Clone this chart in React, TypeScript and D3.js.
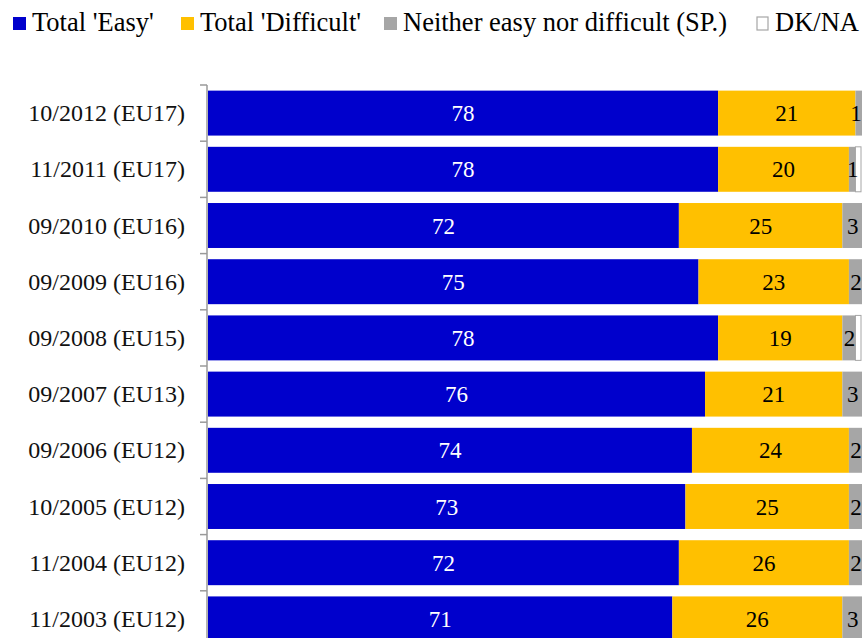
import React from 'react'
import * as d3 from 'd3'

// data (percent)
const periods = [
  '10/2012 (EU17)', '11/2011 (EU17)', '09/2010 (EU16)', '09/2009 (EU16)', '09/2008 (EU15)',
  '09/2007 (EU13)', '09/2006 (EU12)', '10/2005 (EU12)', '11/2004 (EU12)', '11/2003 (EU12)'
]
const easy = [78, 78, 72, 75, 78, 76, 74, 73, 72, 71]
const difficult = [21, 20, 25, 23, 19, 21, 24, 25, 26, 26]
const neither = [1, 1, 3, 2, 2, 3, 2, 2, 2, 3]
const dkna = [0, 1, 0, 0, 1, 0, 0, 0, 0, 0]

const seriesKeys = ['easy', 'difficult', 'neither', 'dkna']
const seriesNames = ["Total 'Easy'", "Total 'Difficult'", 'Neither easy nor difficult (SP.)', 'DK/NA']
const seriesColors = ['#0000CC', '#FFC000', '#A6A6A6', '#FFFFFF']
const labelColors = ['#FFFFFF', '#000000', '#000000', '#000000']

const serif = 'Liberation Serif'
const width = 863
const height = 638
const axisX = 207

const rows = periods.map((p, i) => ({
  period: p,
  easy: easy[i],
  difficult: difficult[i],
  neither: neither[i],
  dkna: dkna[i]
}))

const xScale = d3.scaleLinear().domain([0, 100]).range([208, 862])
const yScale = d3.scaleBand().domain(periods).range([85, 647]).paddingInner(0.2).paddingOuter(0.1)
const stack = d3.stack().keys(seriesKeys)
const layers = stack(rows as any)

// legend positions
const legendX = [13, 181, 384, 757]

export default function App () {
  const step = yScale.step()
  const boundaries = d3.range(periods.length + 1).map(i => 85 + i * step)
  return (
    <svg width={width} height={height} style={{ position: 'absolute', left: 0, top: 0, background: '#fff' }}>
      {/* legend */}
      {seriesNames.map((name, i) => (
        <g key={name} transform={`translate(${legendX[i]}, 0)`}>
          <rect x={0} y={17} width={i === 3 ? 11 : 13} height={13}
            fill={seriesColors[i]} stroke={i === 3 ? '#A6A6A6' : 'none'} strokeWidth={1.2} />
          <text x={i === 3 ? 18 : 19} y={31} fontFamily={serif} fontSize={26.5} fill="#000">{name}</text>
        </g>
      ))}

      {/* bars */}
      {layers.map((layer, li) => (
        <g key={seriesKeys[li]}>
          {layer.map((d, i) => {
            const w = xScale(d[1]) - xScale(d[0])
            if (w <= 0) return null
            return (
              <rect key={i}
                x={xScale(d[0])} y={yScale(periods[i])}
                width={li === 3 ? w - 1 : w} height={yScale.bandwidth()}
                fill={seriesColors[li]}
                stroke={li === 3 ? '#A6A6A6' : 'none'} strokeWidth={1} />
            )
          })}
        </g>
      ))}

      {/* value labels, kept inside the picture's right edge */}
      {layers.slice(0, 3).map((layer, li) => layer.map((d, i) => {
        const v = d[1] - d[0]
        if (v <= 0) return null
        const cx = Math.min((xScale(d[0]) + xScale(d[1])) / 2 + (li === 2 ? 0.5 : 0), width - 7)
        return (
          <text key={`${li}-${i}`}
            x={cx}
            y={(yScale(periods[i]) as number) + yScale.bandwidth() / 2 + 8}
            fontFamily={serif} fontSize={23} textAnchor="middle"
            fill={labelColors[li]}>{v}</text>
        )
      }))}

      {/* axis */}
      <g stroke="#9A9A9A" strokeWidth={1.5}>
        <line x1={axisX} x2={axisX} y1={85} y2={height} />
        {boundaries.map((b, i) => (
          <line key={i} x1={axisX - 7} x2={axisX} y1={b} y2={b} />
        ))}
      </g>
      {periods.map(p => (
        <text key={p} x={185} y={(yScale(p) as number) + yScale.bandwidth() / 2 + 8}
          fontFamily={serif} fontSize={24} textAnchor="end" fill="#111">{p}</text>
      ))}
    </svg>
  )
}
